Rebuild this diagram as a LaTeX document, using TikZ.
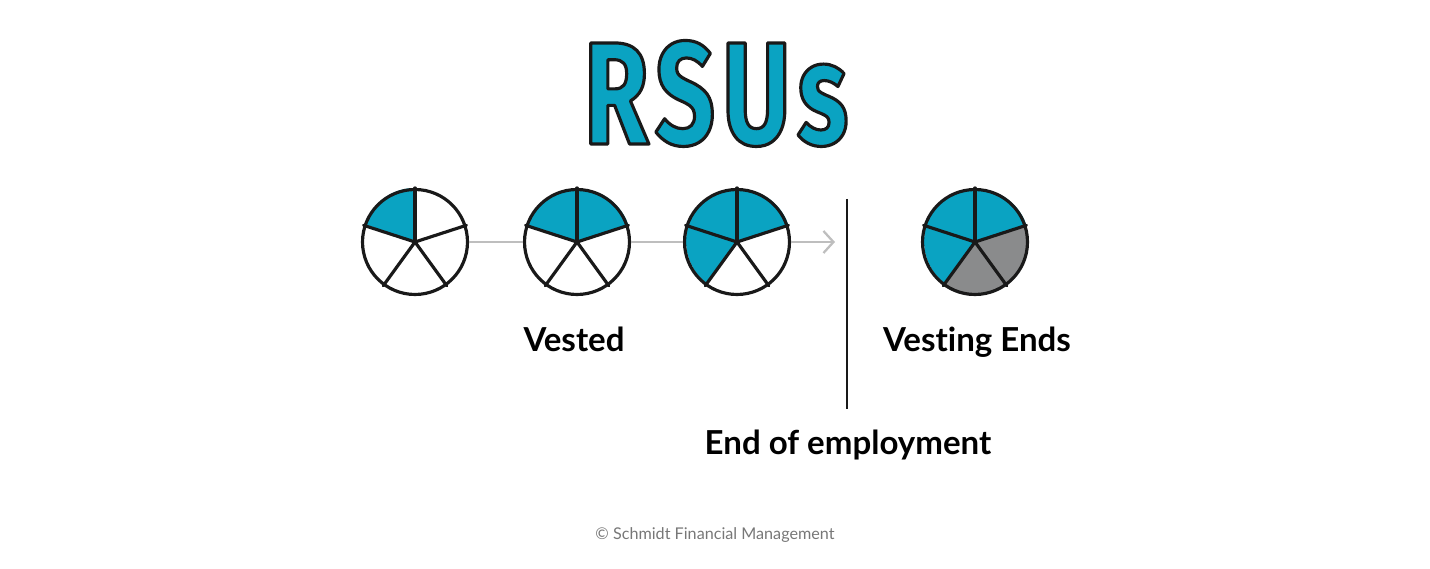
\documentclass[tikz,border=0pt]{standalone}
\usepackage{fontspec}
\setmainfont{Lato}[Ligatures=NoCommon]
\newfontfamily\titlefont[FakeStretch=0.72, LetterSpace=5]{Fira Sans}
\usetikzlibrary{arrows.meta,positioning,backgrounds}
\definecolor{vestc}{HTML}{0AA3C2}
\definecolor{lostc}{HTML}{8A8B8C}
\definecolor{linkc}{HTML}{BEBEBE}
\definecolor{notec}{HTML}{777777}
% filled and stroked letters for the title
\newcommand{\outlined}[1]{\special{pdf:code 0.1 0.1 0.1 RG 1.8 w 1 j 2 Tr}#1\special{pdf:code 0 Tr}}
\tikzset{
  pienode/.style={circle, draw=black!90, line width=1.8pt, minimum size=2.1cm, inner sep=0pt},
  spokeedge/.style={draw=black!90, line width=1.8pt, line cap=round},
  labelnode/.style={font=\fontsize{18.8}{22}\selectfont\bfseries, anchor=base, inner sep=0pt},
  titlenode/.style={font=\titlefont\bfseries\fontsize{83}{90}\selectfont, text=vestc, anchor=base, inner sep=0pt},
  notenode/.style={font=\fontsize{9.2}{11}\selectfont, text=notec, anchor=base, inner sep=0pt},
  linkedge/.style={draw=linkc, line width=1.3pt},
  arrowedge/.style={linkedge, -{Straight Barb[length=2mm, width=4.4mm]}},
  splitedge/.style={draw=black!90, line width=1.6pt},
}

\begin{document}
\begin{tikzpicture}[x=0.02cm, y=0.02cm]
  \useasboundingbox (0,0) rectangle (1430,568);
  \node[titlenode] (title) at (716,424) {\outlined{RSUs}};
  % the pies, one slice per year
  \node[pienode] (pa) at (415,326) {};
  \node[pienode] (pb) at (577,326) {};
  \node[pienode] (pc) at (737,326) {};
  \node[pienode] (pd) at (975,326) {};
  \begin{scope}[on background layer]
    \fill[vestc] (pa.center) -- (pa.90) arc[start angle=90, end angle=162, radius=1.05cm] -- cycle;
    \fill[vestc] (pb.center) -- (pb.18) arc[start angle=18, end angle=162, radius=1.05cm] -- cycle;
    \fill[vestc] (pc.center) -- (pc.18) arc[start angle=18, end angle=234, radius=1.05cm] -- cycle;
    \fill[vestc] (pd.center) -- (pd.18) arc[start angle=18, end angle=234, radius=1.05cm] -- cycle;
    \fill[lostc] (pd.center) -- (pd.-126) arc[start angle=-126, end angle=18, radius=1.05cm] -- cycle;
  \end{scope}
  \foreach \p in {pa,pb,pc,pd}
    \foreach \a in {90,18,-54,-126,162}
      \draw[spokeedge] (\p.center) -- (\p.\a);
  \coordinate (tip) at (835,326);
  \draw[linkedge] (pa) -- (pb);
  \draw[linkedge] (pb) -- (pc);
  \draw[arrowedge] (pc) -- (tip);
  % end of employment
  \coordinate (cuttop) at (847,369);
  \coordinate (cutbot) at (847,159);
  \draw[splitedge] (cuttop) -- (cutbot);
  \node[labelnode] (vested) at (574,216) {Vested};
  \node[labelnode] (ends) at (977,216) {Vesting Ends};
  \node[labelnode] (quit) at (848,113) {End of employment};
  \node[notenode] (note) at (715,29) {© Schmidt Financial Management};
\end{tikzpicture}
\end{document}
